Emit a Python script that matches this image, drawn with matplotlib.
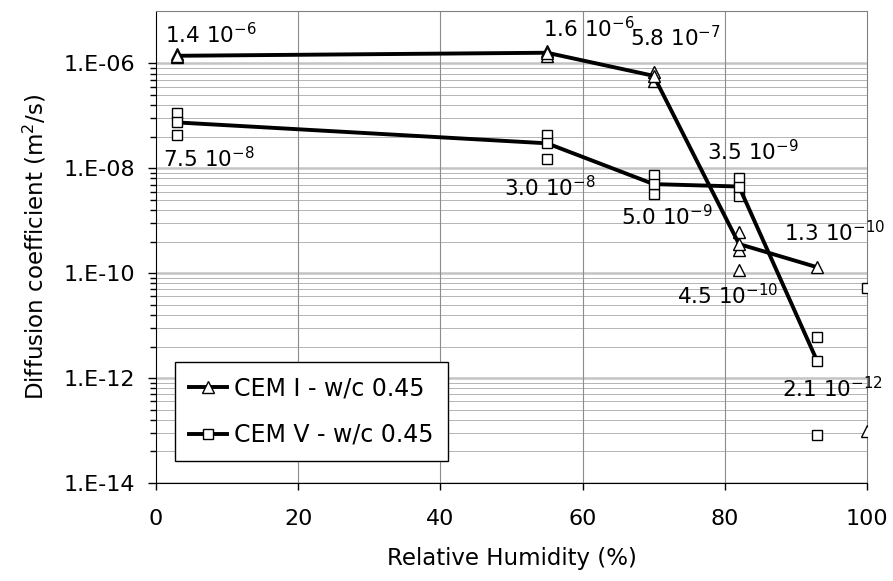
import matplotlib
matplotlib.use("Agg")
import matplotlib.pyplot as plt
import numpy as np

# relative humidity of the tested points (%)
rh = [3, 55, 70, 82, 93]

# mean diffusion coefficients (m2/s), joined by the lines
cem1_mean = [1.4e-6, 1.6e-6, 5.8e-7, 3.6e-10, 1.3e-10]
cem5_mean = [7.5e-8, 3.0e-8, 5.0e-9, 4.5e-9, 2.1e-12]

# individual measurements (markers only)
cem1_pts_x = [3, 3, 55, 55, 70, 70, 82, 82, 82, 100]
cem1_pts_y = [1.5e-6, 1.3e-6, 1.75e-6, 1.4e-6, 7.0e-7, 4.6e-7, 6.2e-10, 2.8e-10, 1.15e-10, 1.0e-13]
cem5_pts_x = [3, 3, 55, 55, 70, 70, 82, 82, 93, 93, 100]
cem5_pts_y = [1.12e-7, 4.3e-8, 4.3e-8, 1.5e-8, 7.6e-9, 3.3e-9, 6.5e-9, 3.0e-9, 6.2e-12, 8.3e-14, 5.3e-11]

# value labels written on the chart
labels = ["1.4 10$^{-6}$", "1.6 10$^{-6}$", "5.8 10$^{-7}$",
          "7.5 10$^{-8}$", "3.0 10$^{-8}$", "5.0 10$^{-9}$", "3.5 10$^{-9}$",
          "4.5 10$^{-10}$", "1.3 10$^{-10}$", "2.1 10$^{-12}$"]
label_x = [1.3, 54.4, 66.7, 1.0, 48.9, 65.4, 77.5, 73.3, 88.3, 88.0]
label_y = [2.45e-6, 3.2e-6, 2.15e-6, 1.06e-8, 3.0e-9, 8.3e-10, 1.45e-8, 2.6e-11, 4.0e-10, 4.4e-13]

yticks = [1e-14, 1e-12, 1e-10, 1e-8, 1e-6]
yticklabels = ["1.E-14", "1.E-12", "1.E-10", "1.E-08", "1.E-06"]

fig = plt.figure(figsize=(8.93, 5.81), dpi=100)
ax = fig.add_axes([156/893, 1 - 483/581, 711/893, 472/581])
ax.set_yscale("log")
ax.set_xlim(0, 100)
ax.set_ylim(1e-14, 1e-5)

# minor ticks as drawn by the spreadsheet (log base 100 axis)
minor = [lo * k**2 for lo in [1e-14, 1e-12, 1e-10, 1e-8] for k in range(2, 10)]
ax.set_yticks(yticks)
ax.set_yticklabels(yticklabels)
ax.set_yticks(minor, minor=True)
ax.set_yticklabels([], minor=True)
ax.set_xticks([0, 20, 40, 60, 80, 100])

for v in minor:
    ax.axhline(v, color="#b4b4b4", lw=0.7, zorder=0)
for v in yticks:
    ax.axhline(v, color="#c4c4c4", lw=1.8, zorder=0)
for v in [20, 40, 60, 80]:
    ax.axvline(v, color="#8c8c8c", lw=0.8, zorder=0)

ax.tick_params(axis="y", which="major", direction="out", length=6, width=1, pad=9, labelsize=16)
ax.tick_params(axis="y", which="minor", direction="out", length=4.3, width=1)
ax.tick_params(axis="x", direction="out", length=5, width=1, pad=14, labelsize=16)

for s in ["top", "right"]:
    ax.spines[s].set_color("#808080")
for s in ["left", "bottom"]:
    ax.spines[s].set_color("black")

mk = dict(mfc="white", mec="black", mew=1.0)
ax.plot(cem1_pts_x, cem1_pts_y, ls="none", marker="^", ms=9, zorder=3, **mk)
ax.plot(cem5_pts_x, cem5_pts_y, ls="none", marker="s", ms=7.9, zorder=3, **mk)
ax.plot(rh, cem1_mean, color="black", lw=2.8, marker="^", ms=9, zorder=4,
        label="CEM I - w/c 0.45", **mk)
ax.plot(rh, cem5_mean, color="black", lw=2.8, marker="s", ms=7.9, zorder=4,
        label="CEM V - w/c 0.45", **mk)

for t, x, y in zip(labels, label_x, label_y):
    ax.text(x, y, t, fontsize=15.5, ha="left", va="baseline", zorder=5)

ax.set_xlabel("Relative Humidity (%)", fontsize=16.5, labelpad=13)
ax.set_ylabel("Diffusion coefficient (m$^2$/s)", fontsize=16.5, labelpad=11)

leg = ax.legend(loc="lower left", bbox_to_anchor=(175/893, 1 - 461/581),
                bbox_transform=fig.transFigure, borderaxespad=0, fontsize=17,
                handlelength=1.6, handletextpad=0.3, labelspacing=0.95,
                borderpad=0.6, fancybox=False, framealpha=1)
leg.get_frame().set_edgecolor("black")
leg.get_frame().set_linewidth(1.0)

fig.savefig("out.png", dpi=100)
